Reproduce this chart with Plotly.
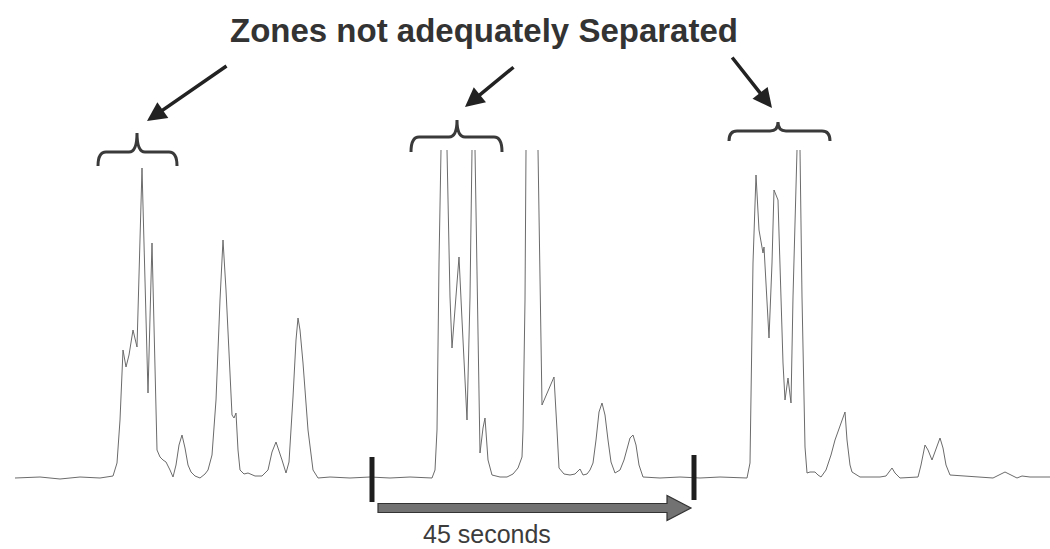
import plotly.graph_objects as go

# Chromatogram trace: time (arbitrary units) vs detector response (above baseline).
# None marks off-scale (clipped) peak tops.
TIME = [15, 40, 60, 80, 100, 113, 117, 120, 123, 126, 129, 133, 137, 142, 148, 152, 157, 160, 163, 166,
        170, 173, 176, 179, 182, 185, 188, 191, 195, 200, 205, 208, 212, 216, 220, 223, 226, 229, 232, 234,
        236, 238, 240, 244, 248, 255, 262, 268, 272, 276, 279, 282, 286, 289, 293, 296, 298, 300, 303, 308,
        313, 318, 330, 350, 370, 390, 410, 432, 435, 437, 439, 441, None, 447, 450, 452, 455, 459, 462, 464,
        467, 470, 472, None, 475, 478, 480, 483, 485, 488, 492, 500, 507, 513, 518, 522, 523, 525, 526, None,
        538, 540, 542, 545, 547, 551, 554, 557, 559, 564, 570, 575, 580, 583, 587, 590, 593, 596, 599, 602,
        605, 608, 611, 615, 620, 624, 628, 630, 633, 636, 639, 643, 660, 680, 700, 720, 747, 750, 753, 756,
        759, 762, 763, 764, 767, 769, 772, 774, 778, 780, 783, 785, 788, 791, 793, 797, None, 800, 802, 805,
        807, 810, 815, 818, 821, 826, 831, 835, 840, 845, 847, 850, 852, 860, 880, 886, 889, 892, 895, 900,
        918, 921, 925, 928, 932, 936, 940, 943, 946, 950, 975, 993, 999, 1005, 1011, 1017, 1022, 1030, 1050]
SIGNAL = [0, 1, -1, 1, 0, 2, 15, 58, 128, 111, 123, 148, 131, 310, 85, 235, 28, 21, 18, 16,
          8, 1, 13, 33, 43, 30, 13, 6, 2, 0, 4, 8, 23, 78, 178, 238, 188, 118, 63, 60,
          65, 28, 8, 4, 5, 2, 2, 8, 26, 36, 28, 18, 5, 16, 81, 138, 160, 148, 115, 48,
          8, 0, 1, 0, 1, 0, 1, 0, 8, 48, 215, 328, None, 328, 181, 130, 168, 221, 158, 115,
          58, 181, 328, None, 328, 115, 25, 50, 60, 18, 3, 1, 1, 4, 10, 21, 48, 178, 328, None,
          328, 178, 73, 80, 85, 93, 101, 48, 10, 4, 3, 4, 9, 3, 4, 8, 15, 38, 66, 75,
          63, 38, 16, 5, 8, 18, 33, 40, 43, 33, 13, 1, 0, 1, 0, 1, 0, 15, 215, 303,
          248, 231, 225, 231, 181, 140, 215, 288, 278, 215, 115, 78, 100, 75, 181, 328, None, 328, 181, 31,
          5, 6, 6, 3, 1, 8, 23, 38, 53, 66, 38, 13, 6, 1, 1, 2, 6, 10, 5, 0,
          1, 13, 33, 28, 18, 30, 40, 30, 13, 3, 1, 0, 3, 6, 3, 0, 2, 1, 1]

# Annotation content
TITLE = "Zones not adequately Separated"
SPAN_LABEL = "45 seconds"
SPAN_START = 372
SPAN_END = 694

# Braces: (left, center, right, end level, flat level, tip level)
BRACES = [(98, 137, 177, 312, 326, 345),
          (411, 457, 502, 326, 341, 358),
          (729, 778, 830, 337, 347, 356)]
# Pointer arrows: (tail x, tail y, head x, head y)
POINTERS = [(228, 413, 147, 357),
            (515, 412, 465, 371),
            (731, 422, 772, 370)]

fig = go.Figure()
fig.add_trace(go.Scatter(x=TIME, y=SIGNAL, mode="lines", connectgaps=False,
                         line=dict(color="#6b6b6b", width=1), hoverinfo="skip", showlegend=False))

shapes = []
r = 8
for x0, xc, x1, yb, yh, yt in BRACES:
    path = (f"M {x0},{yb} Q {x0},{yh} {x0 + r},{yh} L {xc - r},{yh} Q {xc},{yh} {xc},{yt} "
            f"Q {xc},{yh} {xc + r},{yh} L {x1 - r},{yh} Q {x1},{yh} {x1},{yb}")
    shapes.append(dict(type="path", path=path, xref="x", yref="y",
                       line=dict(color="#3a3a3a", width=3)))

# Span markers (vertical bars)
shapes.append(dict(type="line", xref="x", yref="y", x0=SPAN_START, x1=SPAN_START, y0=21, y1=-24,
                   line=dict(color="#1e1e1e", width=5)))
shapes.append(dict(type="line", xref="x", yref="y", x0=SPAN_END, x1=SPAN_END, y0=23, y1=-22,
                   line=dict(color="#1e1e1e", width=5)))
# Big horizontal arrow
ay_mid = -30
sx0, sx1, hx = SPAN_START + 6, 667, SPAN_END - 3
arrow_path = (f"M {sx0},{ay_mid + 4.5} L {sx1},{ay_mid + 4.5} L {sx1},{ay_mid + 12.5} L {hx},{ay_mid} "
              f"L {sx1},{ay_mid - 12.5} L {sx1},{ay_mid - 4.5} L {sx0},{ay_mid - 4.5} Z")
shapes.append(dict(type="path", path=arrow_path, xref="x", yref="y",
                   fillcolor="#727272", line=dict(color="#333333", width=1.2)))

annotations = []
for tx, ty, hx_, hy in POINTERS:
    annotations.append(dict(x=hx_, y=hy, ax=tx, ay=ty, xref="x", yref="y", axref="x", ayref="y",
                            text="", showarrow=True, arrowhead=2, arrowsize=1.1, arrowwidth=3.5,
                            arrowcolor="#222222", standoff=0))
annotations.append(dict(x=484, y=448, xref="x", yref="y", text=f"<b>{TITLE}</b>", showarrow=False,
                        font=dict(family="Liberation Sans, Arial, sans-serif", size=33, color="#333333")))
annotations.append(dict(x=487, y=-56, xref="x", yref="y", text=SPAN_LABEL, showarrow=False,
                        borderpad=0,
                        font=dict(family="Liberation Sans, Arial, sans-serif", size=25, color="#3c3c3c")))

fig.update_layout(
    width=1050, height=549,
    margin=dict(l=0, r=0, t=0, b=0),
    paper_bgcolor="white", plot_bgcolor="white",
    xaxis=dict(range=[0, 1050], visible=False, fixedrange=True),
    yaxis=dict(range=[-71, 478], visible=False, fixedrange=True),
    shapes=shapes, annotations=annotations, showlegend=False,
)
fig.write_html("out.html")
